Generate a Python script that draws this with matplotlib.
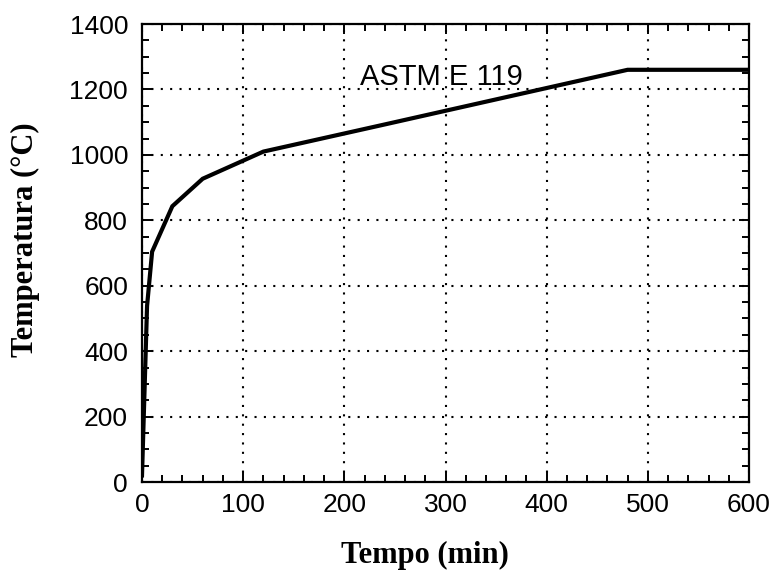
import numpy as np
import matplotlib
matplotlib.use('Agg')
import matplotlib.pyplot as plt
from matplotlib.ticker import MultipleLocator

# ASTM E119 standard fire curve
tempo = [0, 5, 10, 30, 60, 120, 240, 480, 600]
temperatura = [20, 538, 704, 843, 927, 1010, 1093, 1260, 1260]

fig = plt.figure(figsize=(7.8, 5.72), dpi=100)
ax = fig.add_axes([142/780, 1 - 482/572, 607/780, 458/572])

ax.plot(tempo, temperatura, 'k-', linewidth=3.0, solid_joinstyle='miter')

ax.set_xlim(0, 600)
ax.set_ylim(0, 1400)
ax.xaxis.set_major_locator(MultipleLocator(100))
ax.xaxis.set_minor_locator(MultipleLocator(20))
ax.yaxis.set_major_locator(MultipleLocator(200))
ax.yaxis.set_minor_locator(MultipleLocator(50))

ax.tick_params(which='both', direction='in', top=True, right=True, width=1.4, color='k')
ax.tick_params(which='major', length=7)
ax.tick_params(which='minor', length=5)
ax.tick_params(axis='x', which='major', pad=8)
ax.tick_params(axis='y', which='major', pad=10)
for lab in ax.get_xticklabels() + ax.get_yticklabels():
    lab.set_fontfamily('Liberation Sans')
    lab.set_fontsize(19)

for s in ax.spines.values():
    s.set_linewidth(1.6)

ax.grid(True, which='major', color='k', linestyle=(0, (1, 3.5)), linewidth=1.5)

ax.text(215, 1213, 'ASTM E 119', fontfamily='Liberation Sans', fontsize=21,
        ha='left', va='baseline')

ax.set_xlabel('Tempo (min)', fontfamily='Liberation Serif', fontweight='bold', fontsize=22)
ax.set_ylabel('Temperatura (°C)', fontfamily='Liberation Serif', fontweight='bold', fontsize=22)
ax.xaxis.set_label_coords(0.466, -0.128)
ax.yaxis.set_label_coords(-0.168, 0.528)

fig.savefig('out.png', dpi=100)
